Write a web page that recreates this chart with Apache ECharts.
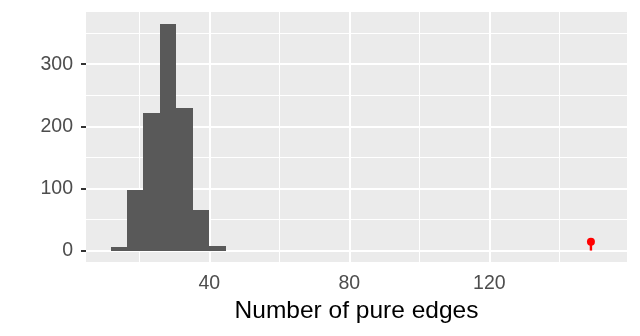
<!DOCTYPE html>
<html>
<head>
<meta charset="utf-8">
<script src="https://cdn.jsdelivr.net/npm/echarts@6/dist/echarts.min.js"></script>
<style>
html,body{margin:0;padding:0;background:#fff;}
#chart{width:640px;height:336px;}
</style>
</head>
<body>
<div id="chart"></div>
<script>
// Histogram bin edges (Number of pure edges) and counts
const binEdges = [11.8, 16.5, 21.2, 25.9, 30.6, 35.3, 40.0, 44.7];
const binCounts = [6, 98, 222, 365, 230, 66, 8];
// Observed value (red marker)
const observedX = [149];
const observedY = [14];
// Axis ticks
const xMajorTicks = [40, 80, 120];
const xMinorTicks = [20, 60, 100, 140];
const yMajorTicks = [0, 100, 200, 300];
const yMinorTicks = [50, 150, 250, 350];
const xTitle = "Number of pure edges";

const chart = echarts.init(document.getElementById('chart'), null, {renderer: 'canvas'});

const barData = binCounts.map((c, i) => [binEdges[i], binEdges[i + 1], c]);

function gridLines(vals, dim, w) {
  return vals.map(v => dim === 'x' ? {xAxis: v, lineStyle: {width: w}} : {yAxis: v, lineStyle: {width: w}});
}

const font = 'Liberation Sans, Arial, Helvetica, sans-serif';

chart.setOption({
  animation: false,
  backgroundColor: '#ffffff',
  grid: {left: 86, right: 13, top: 12, bottom: 74, show: true, backgroundColor: '#EBEBEB', borderWidth: 0},
  xAxis: {
    type: 'value', min: 4.8, max: 159.3,
    splitLine: {show: false},
    axisLine: {show: false},
    axisTick: {show: true, customValues: xMajorTicks, length: 5, lineStyle: {color: '#333333', width: 2}},
    axisLabel: {customValues: xMajorTicks, color: '#4D4D4D', fontSize: 19.5, fontFamily: font, margin: 12},
    name: xTitle, nameLocation: 'middle', nameGap: 36,
    nameTextStyle: {color: '#000000', fontSize: 24.5, fontFamily: font}
  },
  yAxis: {
    type: 'value', min: -18.4, max: 384,
    splitLine: {show: false},
    axisLine: {show: false},
    axisTick: {show: true, customValues: yMajorTicks, length: 5, lineStyle: {color: '#333333', width: 2}},
    axisLabel: {customValues: yMajorTicks, color: '#4D4D4D', fontSize: 19.5, fontFamily: font, margin: 13}
  },
  series: [
    {
      type: 'line', data: [], silent: true, z: 1,
      markLine: {
        silent: true, symbol: ['none', 'none'], label: {show: false}, animation: false, z: 1,
        lineStyle: {color: '#FFFFFF', type: 'solid'},
        data: [].concat(
          gridLines(xMinorTicks, 'x', 1.1),
          gridLines(yMinorTicks, 'y', 1.1),
          gridLines(xMajorTicks, 'x', 2.1),
          gridLines(yMajorTicks, 'y', 2.1)
        )
      }
    },
    {
      type: 'custom', z: 10, silent: true,
      data: barData,
      renderItem: function (params, api) {
        const p0 = api.coord([api.value(0), 0]);
        const p1 = api.coord([api.value(1), api.value(2)]);
        const x0 = Math.round(p0[0]), x1 = Math.round(p1[0]);
        const yb = Math.round(p0[1]), yt = Math.round(p1[1]);
        return {
          type: 'rect',
          shape: {x: x0, y: yt, width: x1 - x0, height: yb - yt},
          style: {fill: '#595959'}
        };
      }
    },
    {
      type: 'custom', z: 11, silent: true,
      data: observedX.map((x, i) => [x, observedY[i]]),
      renderItem: function (params, api) {
        const top = api.coord([api.value(0), api.value(1)]);
        const base = api.coord([api.value(0), 0]);
        return {
          type: 'group',
          children: [
            {type: 'line', shape: {x1: base[0], y1: base[1], x2: top[0], y2: top[1]}, style: {stroke: '#FF0000', lineWidth: 2.4}},
            {type: 'circle', shape: {cx: top[0], cy: top[1], r: 4}, style: {fill: '#FF0000'}}
          ]
        };
      }
    }
  ]
});
</script>
</body>
</html>
